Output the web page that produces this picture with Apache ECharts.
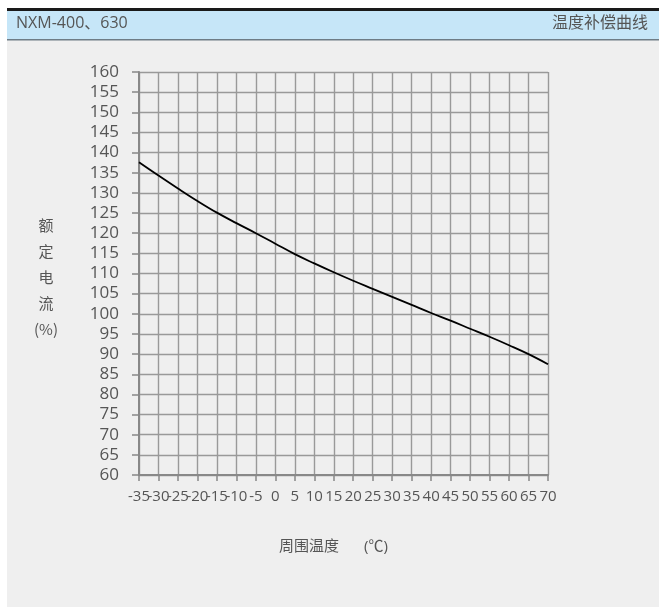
<!DOCTYPE html>
<html>
<head>
<meta charset="utf-8">
<style>
html,body{margin:0;padding:0;background:#ffffff;}
#chart{width:659px;height:607px;}
</style>
<script src="https://cdn.jsdelivr.net/npm/echarts@6/dist/echarts.min.js"></script>
</head>
<body>
<div id="chart"></div>
<script>
const temperatures = ['-35','-30','-25','-20','-15','-10','-5','0','5','10','15','20','25','30','35','40','45','50','55','60','65','70'];
const ratedCurrent = [137.6,134.3,131.1,128.0,125.1,122.5,120.0,117.4,114.8,112.5,110.3,108.2,106.2,104.2,102.2,100.2,98.3,96.3,94.3,92.2,90.0,87.5];
const yMin = 60, yMax = 160, yStep = 5;
const headerLeft = 'NXM-400、630';
const headerRight = '温度补偿曲线';
const yName = '额\n定\n电\n流\n(%)';
const xName1 = '周围温度';
const xName2 = '(℃)';

const FONT = '"Open Sans", "Noto Sans CJK SC", sans-serif';
const CJK = '"Noto Sans CJK SC", "Open Sans", sans-serif';
const chart = echarts.init(document.getElementById('chart'));
chart.setOption({
  backgroundColor: '#ffffff',
  animation: false,
  graphic: [
    {type:'rect', z:-10, shape:{x:7,y:40,width:652,height:567}, style:{fill:'#efefef'}},
    {type:'rect', z:-10, shape:{x:7,y:8,width:652,height:3}, style:{fill:'#1a1a1a'}},
    {type:'rect', z:-10, shape:{x:7,y:11,width:652,height:28}, style:{fill:'#c6e6f8'}},
    {type:'rect', z:-10, shape:{x:7,y:39,width:652,height:1.5}, style:{fill:'#6e7c86'}},
    {type:'text', left:16, top:15, style:{text:headerLeft, font:'16px ' + FONT, fill:'#555555'}},
    {type:'text', right:11, top:15, style:{text:headerRight, font:'16px ' + FONT, fill:'#555555'}},
    {type:'text', x:46, y:212, style:{text:yName, font:'15px ' + CJK, fill:'#555555', textAlign:'center', lineHeight:26}},
    {type:'text', x:279, y:539, style:{text:xName1, font:'15px ' + FONT, fill:'#555555'}},
    {type:'text', x:364, y:539, style:{text:xName2, font:'15px ' + FONT, fill:'#555555'}}
  ],
  grid: {left:139, right:111, top:72, bottom:132},
  xAxis: {
    type:'category',
    boundaryGap:false,
    data:temperatures,
    axisLine:{lineStyle:{color:'#888888', width:2}},
    axisTick:{show:true, length:6, lineStyle:{color:'#888888', width:1.5}},
    axisLabel:{interval:0, fontSize:15, color:'#555555', margin:14, fontFamily:FONT},
    splitLine:{show:true, lineStyle:{color:'#999999', width:1.4}}
  },
  yAxis: {
    type:'value',
    min:yMin, max:yMax, interval:yStep,
    axisLine:{show:true, lineStyle:{color:'#888888', width:2}},
    axisTick:{show:true, length:7, lineStyle:{color:'#888888', width:1.5}},
    axisLabel:{fontSize:17, color:'#555555', margin:20, fontFamily:FONT},
    splitLine:{show:true, lineStyle:{color:'#999999', width:1.4}}
  },
  series: [{
    type:'line',
    data:ratedCurrent,
    smooth:0.4,
    symbol:'none',
    lineStyle:{color:'#000000', width:1.8}
  }]
});
</script>
</body>
</html>
